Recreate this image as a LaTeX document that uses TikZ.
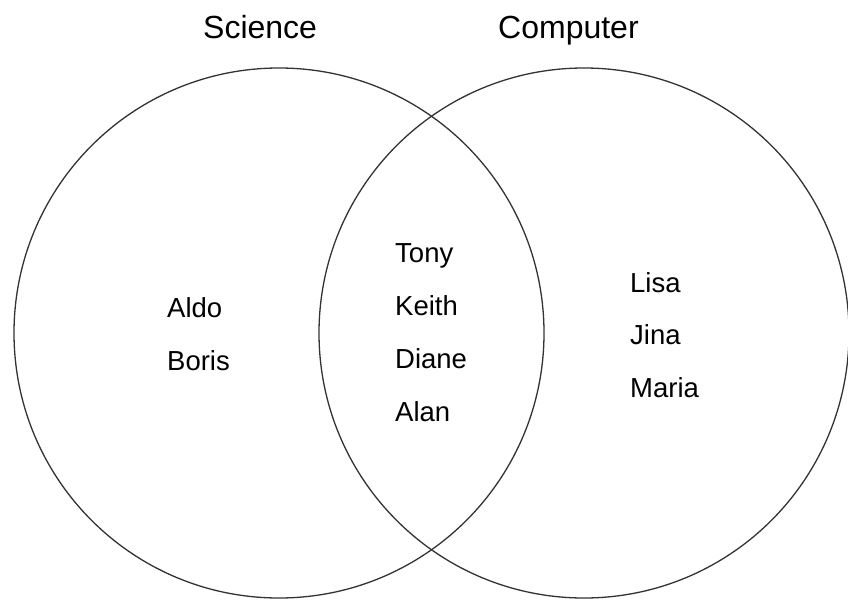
\documentclass[tikz,border=0pt]{standalone}
\usepackage{fontspec}
\setmainfont{Liberation Sans}
\begin{document}
\begin{tikzpicture}[x=1pt,y=-1pt,
  setcircle/.style={circle, draw=black!80, line width=1.3pt, minimum size=530pt, inner sep=0pt, outer sep=0pt},
  title/.style={anchor=base west, inner sep=0pt, font=\fontsize{32}{36}\selectfont},
  member/.style={anchor=base west, inner sep=0pt, font=\fontsize{27.5}{32}\selectfont}]
\useasboundingbox (0,0) rectangle (848,600);
\begin{scope}
\clip (0,0) rectangle (848,600);
\node[setcircle] (sci) at (279,333) {};
\node[setcircle] (comp) at (584,333) {};
\end{scope}
\node[title] (tsci) at (203,38) {Science};
\node[title] (tcomp) at (498,38) {Computer};
\node[member] (aldo) at (167,317) {Aldo};
\node[member] (boris) at (167,370) {Boris};
\node[member] (tony) at (395,262) {Tony};
\node[member] (keith) at (395,315) {Keith};
\node[member] (diane) at (395,368) {Diane};
\node[member] (alan) at (395,421) {Alan};
\node[member] (lisa) at (630,292) {Lisa};
\node[member] (jina) at (630,344) {Jina};
\node[member] (maria) at (630,397) {Maria};
\end{tikzpicture}
\end{document}
